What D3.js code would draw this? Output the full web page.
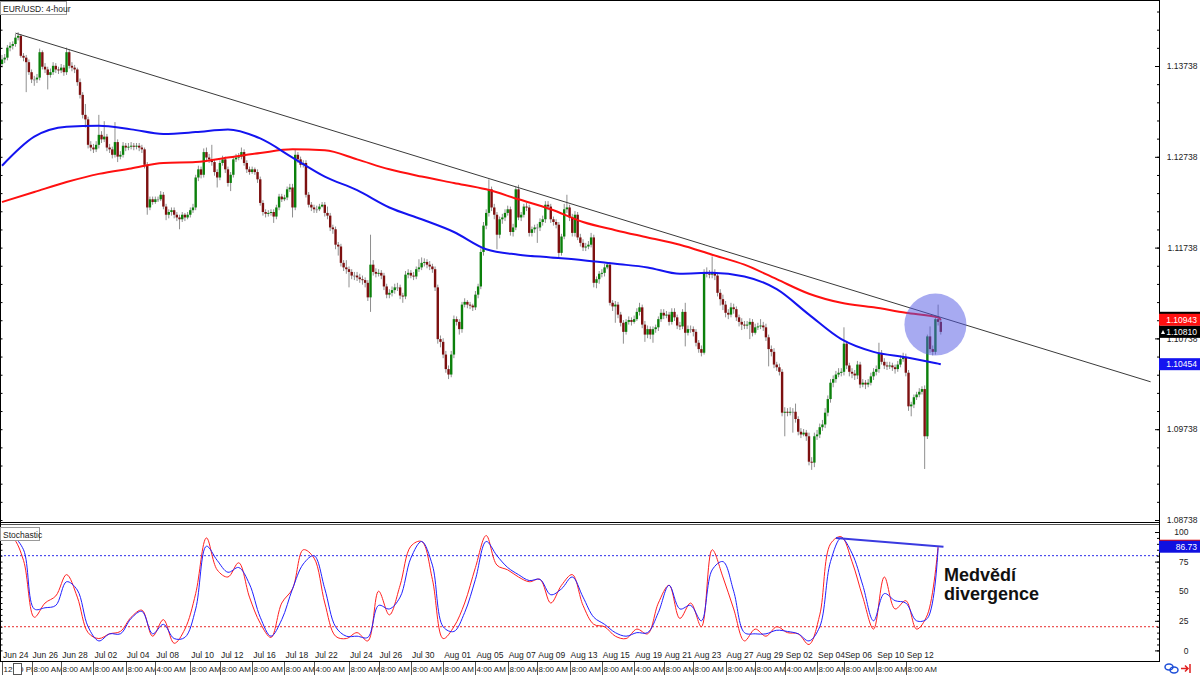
<!DOCTYPE html>
<html>
<head>
<meta charset="utf-8">
<script src="https://cdnjs.cloudflare.com/ajax/libs/d3/7.8.5/d3.min.js"></script>
<style>
body { margin: 0; background: #fff; }
svg { display: block; font-family: "Liberation Sans", Arial, sans-serif; }
</style>
</head>
<body>
<svg id="chart" width="1200" height="675"></svg>
<script>
// EUR/USD 4-hour candles, one row per 12 bars (2 trading days)
var firstOpen = 1.1376;
var closes = [
  1.1381,1.1383,1.1394,1.1396,1.1398,1.1405,1.1407,1.1385,1.1383,1.1378,1.1367,1.1359,
  1.1359,1.1361,1.1389,1.1373,1.1370,1.1364,1.1367,1.1374,1.1370,1.1369,1.1372,1.1367,
  1.1389,1.1374,1.1372,1.1370,1.1356,1.1342,1.1320,1.1315,1.1287,1.1284,1.1282,1.1287,
  1.1298,1.1293,1.1296,1.1284,1.1282,1.1276,1.1290,1.1274,1.1276,1.1286,1.1284,1.1285,
  1.1286,1.1285,1.1286,1.1284,1.1282,1.1265,1.1218,1.1227,1.1224,1.1227,1.1227,1.1232,
  1.1219,1.1210,1.1213,1.1215,1.1210,1.1207,1.1205,1.1210,1.1207,1.1210,1.1215,1.1218,
  1.1251,1.1260,1.1254,1.1279,1.1273,1.1271,1.1268,1.1257,1.1251,1.1267,1.1271,1.1260,
  1.1245,1.1254,1.1271,1.1273,1.1274,1.1279,1.1267,1.1260,1.1257,1.1260,1.1257,1.1249,
  1.1223,1.1213,1.1211,1.1212,1.1213,1.1208,1.1218,1.1230,1.1227,1.1229,1.1238,1.1240,
  1.1218,1.1276,1.1271,1.1265,1.1267,1.1232,1.1221,1.1218,1.1216,1.1216,1.1219,1.1221,
  1.1212,1.1209,1.1196,1.1194,1.1177,1.1175,1.1157,1.1152,1.1150,1.1147,1.1143,1.1143,
  1.1141,1.1139,1.1138,1.1135,1.1119,1.1155,1.1147,1.1145,1.1146,1.1143,1.1131,1.1122,
  1.1124,1.1127,1.1130,1.1130,1.1121,1.1120,1.1144,1.1146,1.1143,1.1142,1.1150,1.1152,
  1.1157,1.1158,1.1155,1.1153,1.1150,1.1130,1.1073,1.1070,1.1056,1.1040,1.1034,1.1056,
  1.1095,1.1092,1.1084,1.1111,1.1114,1.1111,1.1110,1.1108,1.1122,1.1131,1.1169,1.1198,
  1.1212,1.1238,1.1218,1.1210,1.1188,1.1205,1.1207,1.1212,1.1216,1.1191,1.1196,1.1238,
  1.1207,1.1210,1.1219,1.1218,1.1190,1.1194,1.1196,1.1196,1.1202,1.1205,1.1221,1.1219,
  1.1205,1.1202,1.1199,1.1168,1.1186,1.1216,1.1218,1.1207,1.1190,1.1210,1.1185,1.1179,
  1.1174,1.1175,1.1177,1.1185,1.1135,1.1139,1.1145,1.1146,1.1152,1.1155,1.1113,1.1109,
  1.1111,1.1100,1.1091,1.1081,1.1092,1.1094,1.1092,1.1095,1.1103,1.1108,1.1089,1.1078,
  1.1084,1.1078,1.1084,1.1086,1.1095,1.1102,1.1099,1.1100,1.1092,1.1103,1.1097,1.1088,
  1.1087,1.1103,1.1080,1.1084,1.1084,1.1081,1.1069,1.1062,1.1058,1.1147,1.1145,1.1144,
  1.1146,1.1143,1.1124,1.1117,1.1111,1.1102,1.1100,1.1108,1.1106,1.1097,1.1092,1.1089,
  1.1088,1.1089,1.1092,1.1080,1.1086,1.1087,1.1088,1.1086,1.1075,1.1062,1.1059,1.1045,
  1.1042,1.1037,1.0992,1.0993,1.0992,1.0993,1.0993,1.0985,1.0971,1.0968,1.0970,1.0966,
  1.0938,1.0937,1.0966,1.0968,1.0976,1.0979,1.0992,1.1007,1.1025,1.1029,1.1034,1.1036,
  1.1037,1.1068,1.1044,1.1037,1.1035,1.1033,1.1045,1.1023,1.1025,1.1023,1.1025,1.1032,
  1.1037,1.1040,1.1057,1.1048,1.1044,1.1043,1.1044,1.1042,1.1040,1.1045,1.1051,1.1053,
  1.1036,1.0999,1.1001,1.1009,1.1012,1.1015,1.1018,1.0966,1.1076,1.1062,1.1059,1.1095,
  1.1092,1.1081
];
var highs = [
  1.1386,1.1387,1.1397,1.1400,1.1401,1.1409,1.1411,1.1409,1.1388,1.1386,1.1381,1.1370,
  1.1363,1.1365,1.1393,1.1391,1.1377,1.1373,1.1371,1.1378,1.1377,1.1373,1.1376,1.1375,
  1.1394,1.1392,1.1378,1.1375,1.1372,1.1360,1.1345,1.1332,1.1318,1.1291,1.1288,1.1291,
  1.1320,1.1302,1.1313,1.1299,1.1288,1.1285,1.1312,1.1293,1.1280,1.1290,1.1289,1.1289,
  1.1290,1.1289,1.1289,1.1289,1.1287,1.1284,1.1268,1.1230,1.1230,1.1230,1.1230,1.1236,
  1.1235,1.1222,1.1216,1.1218,1.1218,1.1213,1.1210,1.1213,1.1212,1.1213,1.1218,1.1222,
  1.1254,1.1264,1.1263,1.1283,1.1284,1.1277,1.1287,1.1271,1.1260,1.1270,1.1275,1.1274,
  1.1263,1.1257,1.1274,1.1277,1.1278,1.1284,1.1282,1.1270,1.1263,1.1263,1.1262,1.1260,
  1.1252,1.1226,1.1216,1.1215,1.1216,1.1216,1.1221,1.1233,1.1233,1.1232,1.1241,1.1244,
  1.1244,1.1282,1.1279,1.1274,1.1270,1.1270,1.1235,1.1224,1.1221,1.1220,1.1222,1.1224,
  1.1224,1.1219,1.1212,1.1199,1.1197,1.1180,1.1178,1.1160,1.1160,1.1153,1.1150,1.1147,
  1.1147,1.1145,1.1143,1.1141,1.1138,1.1188,1.1160,1.1151,1.1150,1.1149,1.1146,1.1134,
  1.1128,1.1131,1.1134,1.1135,1.1133,1.1124,1.1148,1.1150,1.1149,1.1147,1.1153,1.1161,
  1.1163,1.1162,1.1161,1.1159,1.1156,1.1153,1.1133,1.1077,1.1074,1.1060,1.1044,1.1060,
  1.1099,1.1098,1.1095,1.1114,1.1118,1.1116,1.1114,1.1112,1.1126,1.1134,1.1173,1.1202,
  1.1216,1.1249,1.1241,1.1222,1.1213,1.1208,1.1211,1.1216,1.1220,1.1219,1.1200,1.1241,
  1.1243,1.1213,1.1222,1.1223,1.1221,1.1197,1.1199,1.1200,1.1206,1.1209,1.1225,1.1225,
  1.1222,1.1208,1.1205,1.1202,1.1189,1.1222,1.1232,1.1221,1.1211,1.1214,1.1213,1.1189,
  1.1183,1.1179,1.1181,1.1190,1.1188,1.1142,1.1148,1.1150,1.1156,1.1158,1.1158,1.1116,
  1.1115,1.1114,1.1103,1.1094,1.1095,1.1098,1.1097,1.1099,1.1107,1.1113,1.1111,1.1093,
  1.1088,1.1087,1.1087,1.1089,1.1098,1.1106,1.1106,1.1104,1.1103,1.1107,1.1107,1.1100,
  1.1092,1.1106,1.1113,1.1088,1.1088,1.1087,1.1084,1.1072,1.1066,1.1150,1.1152,1.1149,
  1.1164,1.1150,1.1146,1.1128,1.1122,1.1115,1.1106,1.1113,1.1112,1.1109,1.1100,1.1096,
  1.1093,1.1093,1.1096,1.1095,1.1090,1.1091,1.1095,1.1092,1.1090,1.1078,1.1066,1.1063,
  1.1048,1.1046,1.1040,1.0998,1.0997,1.0998,1.0997,1.1002,1.0988,1.0975,1.0974,1.0973,
  1.0970,1.0943,1.0970,1.0973,1.0980,1.0984,1.0997,1.1011,1.1029,1.1033,1.1038,1.1041,
  1.1041,1.1086,1.1071,1.1047,1.1041,1.1039,1.1049,1.1048,1.1029,1.1028,1.1029,1.1036,
  1.1041,1.1044,1.1069,1.1061,1.1052,1.1048,1.1048,1.1047,1.1045,1.1049,1.1055,1.1058,
  1.1057,1.1039,1.1004,1.1012,1.1015,1.1019,1.1021,1.1022,1.1078,1.1087,1.1066,1.1098,
  1.1111,1.1095
];
var lows = [
  1.1372,1.1377,1.1380,1.1390,1.1392,1.1395,1.1402,1.1383,1.1379,1.1345,1.1364,1.1355,
  1.1352,1.1355,1.1358,1.1370,1.1366,1.1348,1.1361,1.1364,1.1366,1.1365,1.1366,1.1363,
  1.1364,1.1371,1.1368,1.1366,1.1352,1.1338,1.1316,1.1306,1.1283,1.1280,1.1278,1.1279,
  1.1283,1.1289,1.1290,1.1280,1.1278,1.1272,1.1273,1.1268,1.1271,1.1273,1.1280,1.1281,
  1.1282,1.1281,1.1282,1.1280,1.1278,1.1261,1.1210,1.1215,1.1221,1.1222,1.1224,1.1225,
  1.1216,1.1204,1.1206,1.1209,1.1206,1.1203,1.1194,1.1202,1.1203,1.1205,1.1207,1.1212,
  1.1215,1.1247,1.1250,1.1251,1.1269,1.1267,1.1264,1.1253,1.1240,1.1248,1.1264,1.1256,
  1.1241,1.1236,1.1251,1.1268,1.1270,1.1271,1.1264,1.1256,1.1254,1.1255,1.1254,1.1245,
  1.1220,1.1209,1.1207,1.1208,1.1209,1.1201,1.1205,1.1215,1.1224,1.1225,1.1226,1.1235,
  1.1207,1.1215,1.1267,1.1262,1.1262,1.1229,1.1218,1.1214,1.1212,1.1212,1.1214,1.1218,
  1.1208,1.1205,1.1192,1.1189,1.1172,1.1165,1.1153,1.1148,1.1145,1.1130,1.1139,1.1138,
  1.1137,1.1135,1.1133,1.1130,1.1115,1.1103,1.1143,1.1141,1.1142,1.1139,1.1127,1.1118,
  1.1118,1.1120,1.1123,1.1126,1.1117,1.1113,1.1117,1.1140,1.1140,1.1138,1.1139,1.1147,
  1.1149,1.1153,1.1151,1.1149,1.1146,1.1126,1.1068,1.1064,1.1052,1.1036,1.1029,1.1031,
  1.1052,1.1088,1.1078,1.1080,1.1108,1.1107,1.1106,1.1104,1.1105,1.1118,1.1128,1.1165,
  1.1194,1.1208,1.1214,1.1205,1.1172,1.1184,1.1200,1.1203,1.1209,1.1187,1.1186,1.1193,
  1.1204,1.1203,1.1207,1.1214,1.1186,1.1186,1.1190,1.1179,1.1192,1.1198,1.1201,1.1215,
  1.1201,1.1198,1.1195,1.1163,1.1165,1.1183,1.1212,1.1203,1.1186,1.1186,1.1182,1.1175,
  1.1170,1.1170,1.1172,1.1174,1.1130,1.1129,1.1134,1.1141,1.1142,1.1150,1.1110,1.1104,
  1.1091,1.1096,1.1087,1.1068,1.1078,1.1089,1.1088,1.1090,1.1093,1.1099,1.1085,1.1070,
  1.1074,1.1073,1.1069,1.1080,1.1082,1.1092,1.1095,1.1096,1.1088,1.1089,1.1093,1.1084,
  1.1083,1.1084,1.1065,1.1077,1.1080,1.1076,1.1065,1.1058,1.1054,1.1056,1.1141,1.1140,
  1.1140,1.1138,1.1120,1.1110,1.1105,1.1097,1.1095,1.1097,1.1101,1.1093,1.1087,1.1083,
  1.1084,1.1084,1.1073,1.1076,1.1078,1.1083,1.1084,1.1082,1.1071,1.1043,1.1054,1.1041,
  1.1038,1.1033,1.0988,1.0966,1.0988,1.0989,1.0970,1.0981,1.0967,1.0964,1.0966,1.0961,
  1.0934,1.0929,1.0932,1.0962,1.0964,1.0972,1.0975,1.0988,1.1003,1.1020,1.1025,1.1031,
  1.1032,1.1033,1.1040,1.1032,1.1030,1.1028,1.1029,1.1019,1.1020,1.1018,1.1020,1.1022,
  1.1028,1.1033,1.1036,1.1045,1.1040,1.1039,1.1040,1.1038,1.1035,1.1037,1.1042,1.1048,
  1.1032,1.0994,1.0988,1.0997,1.1006,1.1009,1.1012,1.0930,1.0963,1.1058,1.1055,1.1056,
  1.1088,1.1078
];

// moving averages read every 12 bars
var maIdx = [0,12,24,36,48,60,72,84,96,108,120,132,144,156,168,180,192,204,216,228,240,252,264,276,288,300,312,324,336,348,349];
var blueMA = [1.1264,1.1296,1.1307,1.1308,1.1304,1.1299,1.1301,1.1304,1.1294,1.1273,1.1252,1.1237,1.1218,1.1205,1.1191,1.1172,
  1.1166,1.1163,1.1160,1.1156,1.1152,1.1145,1.1146,1.1142,1.1128,1.1100,1.1073,1.1059,1.1053,1.1046,1.10454];
var redMA = [1.1224,1.1235,1.1246,1.1255,1.1261,1.1267,1.1268,1.1273,1.1278,1.1282,1.1281,1.1271,1.1260,1.1252,1.1245,1.1238,
  1.1227,1.1216,1.1202,1.1193,1.1185,1.1177,1.1166,1.1155,1.1139,1.1123,1.1113,1.1108,1.1102,1.1097,1.10943];

var trendLine = [[5, 1.1410], [427, 1.1026]];

// stochastic, read every 4 bars
var stochK = [97,95,76,28,40,46,64,45,15,10, 14,16,28,34,12,26,6,18,48,95,
  68,62,74,45,23,11,40,52,85,78, 40,12,10,15,8,50,30,55,88,92,
  60,10,20,40,70,97,72,68,62,58, 60,40,55,64,38,22,20,12,10,18,
  14,40,55,27,40,20,85,62,35,8, 18,12,20,15,14,5,30,90,96,75,
  45,18,62,35,42,18,30,88];
var stochD = [96,96,85,35,36,38,58,51,20,8, 14,14,27,33,14,22,10,11,35,88,
  76,66,70,56,28,12,26,52,73,80, 52,20,12,12,11,38,35,45,78,92,
  72,20,16,32,60,92,80,70,64,59, 60,47,52,62,45,28,22,15,12,15,
  15,32,55,35,38,25,68,75,50,15, 14,14,17,16,14,8,20,75,95,82,
  55,25,48,42,40,25,27,86.73];
var stochTrend = [[310, 95], [350, 87.5]];

var dateLabels = ["Jun 24","Jun 26","Jun 28","Jul 02","Jul 04","Jul 08","Jul 10","Jul 12","Jul 16","Jul 18",
  "Jul 22","Jul 24","Jul 26","Jul 30","Aug 01","Aug 05","Aug 07","Aug 09","Aug 13","Aug 15",
  "Aug 19","Aug 21","Aug 23","Aug 27","Aug 29","Sep 02","Sep 04","Sep 06","Sep 10","Sep 12"];
var timeLabels = ["12:00 PM","8:00 AM","8:00 AM","8:00 AM","8:00 AM","4:00 AM","8:00 AM","8:00 AM","8:00 AM","8:00 AM",
  "4:00 AM","8:00 AM","8:00 AM","8:00 AM","8:00 AM","4:00 AM","8:00 AM","8:00 AM","8:00 AM","8:00 AM",
  "4:00 AM","8:00 AM","8:00 AM","8:00 AM","8:00 AM","4:00 AM","8:00 AM","8:00 AM","8:00 AM","8:00 AM"];
var labelIdx = [0,11,22,34,46,57,70,81,93,105,116,129,140,152,164,176,188,199,211,223,235,246,257,269,280,291,303,313,325,336];

var priceLabels = [1.08738, 1.09738, 1.10738, 1.11738, 1.12738, 1.13738];
var stochLabels = [0, 25, 50, 75, 100];
var askPrice = 1.10943, bidPrice = 1.10810, maPrice = 1.10454, stochValue = 86.73;

var svg = d3.select("#chart");
var axisX = 1159, mainBottom = 522, stochTop = 524, stochBottom = 661;

var x = d3.scaleLinear().domain([0, 349]).range([2, 940.8]);
var y = d3.scaleLinear().domain([1.08738, 1.13738]).range([520, 66]);
var ys = d3.scaleLinear().domain([0, 100]).range([650.4, 532]);

svg.append("rect").attr("width", 1200).attr("height", 675).attr("fill", "#fff");

var defs = svg.append("defs");
defs.append("clipPath").attr("id", "clipMain").append("rect")
	.attr("x", 0).attr("y", 0).attr("width", axisX).attr("height", mainBottom);
defs.append("clipPath").attr("id", "clipStoch").append("rect")
	.attr("x", 0).attr("y", stochTop).attr("width", axisX).attr("height", stochBottom - stochTop);

/* MAIN PANEL */
var main = svg.append("g").attr("clip-path", "url(#clipMain)");

var bars = closes.map(function(c, i) {
	var o = i === 0 ? firstOpen : closes[i - 1];
	return { i: i, o: o, c: c, h: Math.max(highs[i], o, c), l: Math.min(lows[i], o, c) };
});

main.selectAll(".wick").data(bars).enter().append("line")
	.attr("class", "wick")
	.attr("x1", function(d) { return x(d.i); })
	.attr("x2", function(d) { return x(d.i); })
	.attr("y1", function(d) { return y(d.h); })
	.attr("y2", function(d) { return y(d.l); })
	.attr("stroke", "#8f8f8f")
	.attr("stroke-width", 1);

main.selectAll(".body").data(bars).enter().append("rect")
	.attr("class", "body")
	.attr("x", function(d) { return x(d.i) - 1.2; })
	.attr("width", 2.4)
	.attr("y", function(d) { return y(Math.max(d.o, d.c)); })
	.attr("height", function(d) { return Math.max(1, Math.abs(y(d.o) - y(d.c))); })
	.attr("fill", function(d) { return d.c > d.o ? "#0b800b" : (d.c < d.o ? "#7d1010" : "#8f8f8f"); });

var maLine = d3.line()
	.x(function(d) { return x(d[0]); })
	.y(function(d) { return y(d[1]); })
	.curve(d3.curveMonotoneX);

main.append("path")
	.datum(maIdx.map(function(k, j) { return [k, redMA[j]]; }))
	.attr("d", maLine).attr("fill", "none").attr("stroke", "#ff1010").attr("stroke-width", 2);

main.append("path")
	.datum(maIdx.map(function(k, j) { return [k, blueMA[j]]; }))
	.attr("d", maLine).attr("fill", "none").attr("stroke", "#1414f0").attr("stroke-width", 2);

main.append("line")
	.attr("x1", x(trendLine[0][0])).attr("y1", y(trendLine[0][1]))
	.attr("x2", x(trendLine[1][0])).attr("y2", y(trendLine[1][1]))
	.attr("stroke", "#3a3a3a").attr("stroke-width", 1);

// highlight where price meets the trendline and the red MA
main.append("circle")
	.attr("cx", x(347)).attr("cy", y(1.1089)).attr("r", 31)
	.attr("fill", "rgb(80,85,228)").attr("opacity", 0.5);

/* STOCHASTIC PANEL */
var stoch = svg.append("g").attr("clip-path", "url(#clipStoch)");

stoch.append("line").attr("x1", 0).attr("x2", axisX).attr("y1", ys(80)).attr("y2", ys(80))
	.attr("stroke", "#2a2ae8").attr("stroke-dasharray", "2,2");
stoch.append("line").attr("x1", 0).attr("x2", axisX).attr("y1", ys(20)).attr("y2", ys(20))
	.attr("stroke", "#e82a2a").attr("stroke-dasharray", "2,2");

var stochLine = d3.line()
	.x(function(d, j) { return x(j * 4); })
	.y(function(d) { return ys(d); })
	.curve(d3.curveCatmullRom.alpha(0.5));

stoch.append("path").datum(stochK).attr("d", stochLine)
	.attr("fill", "none").attr("stroke", "#ff2020").attr("stroke-width", 1);
stoch.append("path").datum(stochD).attr("d", stochLine)
	.attr("fill", "none").attr("stroke", "#2020ff").attr("stroke-width", 1);

stoch.append("line")
	.attr("x1", x(stochTrend[0][0])).attr("y1", ys(stochTrend[0][1]))
	.attr("x2", x(stochTrend[1][0])).attr("y2", ys(stochTrend[1][1]))
	.attr("stroke", "#3a3ae0").attr("stroke-width", 2);

/* FRAMES */
svg.append("line").attr("x1", 0).attr("x2", axisX).attr("y1", 0.5).attr("y2", 0.5).attr("stroke", "#000");
svg.append("line").attr("x1", 0).attr("x2", axisX).attr("y1", mainBottom + 0.5).attr("y2", mainBottom + 0.5).attr("stroke", "#000");
svg.append("line").attr("x1", 0).attr("x2", axisX).attr("y1", stochTop + 0.5).attr("y2", stochTop + 0.5).attr("stroke", "#555");
svg.append("line").attr("x1", 0).attr("x2", axisX).attr("y1", stochBottom + 0.5).attr("y2", stochBottom + 0.5).attr("stroke", "#000");
svg.append("line").attr("x1", axisX + 0.5).attr("x2", axisX + 0.5).attr("y1", 0).attr("y2", stochBottom + 1).attr("stroke", "#000");
svg.append("line").attr("x1", 0.5).attr("x2", 0.5).attr("y1", 0).attr("y2", stochBottom + 1).attr("stroke", "#000");

/* AXES */
var minorPrice = d3.range(1.08738, 1.1448, 0.002);
var minorStoch = d3.range(0, 101, 5);

function styleAxis(g) {
	g.select(".domain").remove();
	g.selectAll("line").attr("stroke", "#000");
	g.selectAll("text").attr("font-family", "Liberation Sans, Arial, sans-serif")
		.attr("font-size", 8.5).attr("fill", "#222").attr("text-anchor", "end");
}

svg.append("g").attr("transform", "translate(" + (axisX + 0.5) + ",0)")
	.call(d3.axisRight(y).tickValues(minorPrice).tickSize(-2.5).tickFormat(""))
	.call(styleAxis);
svg.append("g").attr("transform", "translate(" + (axisX + 0.5) + ",0)")
	.call(d3.axisRight(y).tickValues(priceLabels).tickSize(-4.5).tickFormat(d3.format(".5f")))
	.call(styleAxis)
	.selectAll("text").attr("x", 38);

svg.append("g").attr("transform", "translate(" + (axisX + 0.5) + ",0)")
	.call(d3.axisRight(ys).tickValues(minorStoch).tickSize(-2.5).tickFormat(""))
	.call(styleAxis);
svg.append("g").attr("transform", "translate(" + (axisX + 0.5) + ",0)")
	.call(d3.axisRight(ys).tickValues(stochLabels).tickSize(-4.5).tickFormat(d3.format("d")))
	.call(styleAxis)
	.selectAll("text").attr("x", 29);

// small ticks on the left border
svg.append("g").attr("transform", "translate(0.5,0)")
	.call(d3.axisRight(y).tickValues(minorPrice).tickSize(2).tickFormat(""))
	.call(styleAxis);
svg.append("g").attr("transform", "translate(0.5,0)")
	.call(d3.axisRight(ys).tickValues(minorStoch).tickSize(2).tickFormat(""))
	.call(styleAxis);

/* PRICE BOXES */
function priceBox(v, scale, bg, txt, dy) {
	var cy = scale(v) + (dy || 0);
	svg.append("rect").attr("x", axisX).attr("y", cy - 6).attr("width", 1200 - axisX).attr("height", 12).attr("fill", bg);
	svg.append("text").attr("x", 1197).attr("y", cy + 3).attr("text-anchor", "end")
		.attr("font-size", 8.5).attr("fill", "#fff").text(txt);
}
svg.append("rect").attr("x", axisX).attr("y", y(askPrice) - 8).attr("width", 1200 - axisX).attr("height", 12).attr("fill", "#000");
priceBox(askPrice, y, "#ff1010", d3.format(".5f")(askPrice));
priceBox(bidPrice, y, "#000", d3.format(".5f")(bidPrice));
svg.append("path").attr("d", "M1161,334 L1163,330 L1165,334 Z").attr("fill", "#fff");
priceBox(maPrice, y, "#1414f0", d3.format(".5f")(maPrice));

svg.append("rect").attr("x", axisX).attr("y", ys(stochValue) - 8).attr("width", 1200 - axisX).attr("height", 12).attr("fill", "#e01010");
priceBox(stochValue, ys, "#1010e0", d3.format(".2f")(stochValue), -1);

/* TIME AXIS */
var dateG = svg.append("g");
dateLabels.forEach(function(lbl, k) {
	var lx = x(labelIdx[k]);
	dateG.append("text").attr("x", lx + 1).attr("y", 658)
		.attr("font-size", 8.5).attr("fill", "#222").text(lbl);
});
var timeG = svg.append("g");
timeLabels.forEach(function(lbl, k) {
	var lx = Math.round(x(labelIdx[k]));
	timeG.append("rect").attr("x", lx).attr("y", 662).attr("width", 34).attr("height", 13).attr("fill", "#fff");
	timeG.append("line").attr("x1", lx + 0.5).attr("x2", lx + 0.5).attr("y1", 662).attr("y2", 675)
		.attr("stroke", "#555");
	timeG.append("text").attr("x", lx + 1.5).attr("y", 672)
		.attr("font-size", 8).attr("fill", "#222").text(lbl);
});
timeG.append("rect").attr("x", 13.5).attr("y", 663.5).attr("width", 8).attr("height", 11)
	.attr("fill", "#fff").attr("stroke", "#555");

/* LABELS */
function tagBox(x0, y0, w, txt) {
	svg.append("rect").attr("x", x0 + 0.5).attr("y", y0 + 0.5).attr("width", w).attr("height", 13)
		.attr("fill", "#fff").attr("stroke", "#999");
	svg.append("text").attr("x", x0 + 3).attr("y", y0 + 10.5)
		.attr("font-size", 8.5).attr("fill", "#222").text(txt);
}
tagBox(0, 1, 66, "EUR/USD: 4-hour");
tagBox(0, 527, 39, "Stochastic");

svg.append("text").attr("x", 944).attr("y", 581)
	.attr("font-size", 18).attr("font-weight", "bold").attr("fill", "#111").text("Medvědí");
svg.append("text").attr("x", 944).attr("y", 600)
	.attr("font-size", 18).attr("font-weight", "bold").attr("fill", "#111").text("divergence");

// bottom-right icons
svg.append("ellipse").attr("cx", 1169).attr("cy", 667).attr("rx", 4).attr("ry", 3)
	.attr("fill", "none").attr("stroke", "#2050d8").attr("stroke-width", 1.5);
svg.append("ellipse").attr("cx", 1174).attr("cy", 670).attr("rx", 4).attr("ry", 3)
	.attr("fill", "none").attr("stroke", "#2050d8").attr("stroke-width", 1.5);
svg.append("path").attr("d", "M1181,668.5 L1188,668.5 M1185,665.5 L1188,668.5 L1185,671.5 M1190,664 L1190,673")
	.attr("fill", "none").attr("stroke", "#e02020").attr("stroke-width", 1.5);
</script>
</body>
</html>
